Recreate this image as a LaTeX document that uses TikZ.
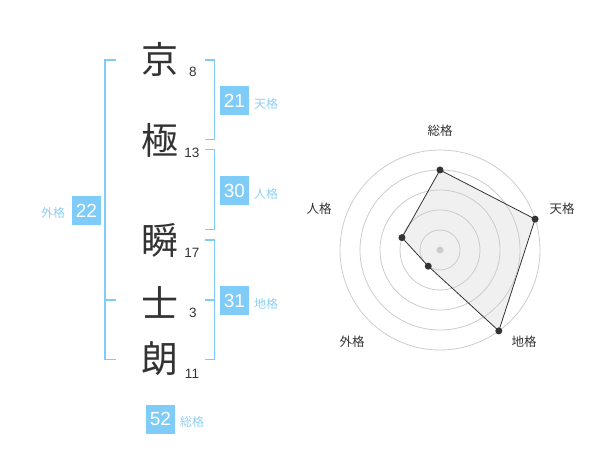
\documentclass[tikz,border=0pt]{standalone}
\usepackage{fontspec}
\usetikzlibrary{calc}
\setmainfont{Liberation Sans}
\newfontfamily\jp{Noto Sans CJK JP}
\definecolor{kblue}{HTML}{80CCF8}
\definecolor{klabel}{HTML}{8ED0F4}
\definecolor{kdark}{HTML}{333333}
\definecolor{kgrid}{HTML}{CCCCCC}
\definecolor{kfill}{HTML}{F0F0F0}
\begin{document}
\begin{tikzpicture}[x=1pt,y=-1pt,
  bigchar/.style={inner sep=0pt,font=\jp\fontsize{37}{37}\selectfont,text=kdark},
  strokes/.style={anchor=base,inner sep=0pt,font=\fontsize{13.5}{14}\selectfont,text=kdark},
  scorebox/.style={fill=kblue,text=white,minimum width=29pt,minimum height=29pt,inner sep=0pt,font=\fontsize{19}{19}\selectfont},
  kaku/.style={inner sep=0pt,anchor=west,font=\jp\fontsize{12}{12}\selectfont,text=klabel},
  bracket/.style={draw=kblue,line width=1.8pt},
  ring/.style={draw=kgrid,line width=0.8pt},
  axislabel/.style={inner sep=0pt,font=\jp\fontsize{12.5}{12.5}\selectfont,text=kdark},
  dot/.style={circle,fill=kdark,inner sep=0pt,minimum size=7pt}]
\useasboundingbox (0,0) rectangle (600,470);
% characters
\node[bigchar] (c1) at (160,59) {京};
\node[bigchar] (c2) at (160,140) {極};
\node[bigchar] (c3) at (160,240) {瞬};
\node[bigchar] (c4) at (160,302) {士};
\node[bigchar] (c5) at (160,359) {朗};
\node[strokes] (n1) at (193,77) {8};
\node[strokes] (n2) at (192,158) {13};
\node[strokes] (n3) at (192,258) {17};
\node[strokes] (n4) at (193,318) {3};
\node[strokes] (n5) at (192,378) {11};
% brackets
\draw[bracket] (116,60) -- (105,60) -- (105,359.5) -- (116,359.5);
\draw[bracket] (105,300) -- (116,300);
\draw[bracket] (205,60) -- (214.5,60) -- (214.5,139.5) -- (205,139.5);
\draw[bracket] (205,149.5) -- (214.5,149.5) -- (214.5,229.5) -- (205,229.5);
\draw[bracket] (205,240) -- (214.5,240) -- (214.5,359.5) -- (205,359.5);
\draw[bracket] (205,300) -- (214.5,300);
% scores
\node[scorebox] (ten) at (234.5,100.5) {21};
\node[kaku] (tenl) at (254,104) {天格};
\node[scorebox] (jin) at (234.5,190.5) {30};
\node[kaku] (jinl) at (254,194) {人格};
\node[scorebox] (chi) at (234.5,300.5) {31};
\node[kaku] (chil) at (254,304) {地格};
\node[scorebox] (gai) at (86.5,210.5) {22};
\node[kaku] (gail) at (41,213) {外格};
\node[scorebox] (sou) at (160.5,419) {52};
\node[kaku] (soul) at (180,422) {総格};
% radar
\coordinate (o) at (440,250);
\coordinate (p1) at ($(o)+(0,-80)$);
\coordinate (p2) at ($(o)+(95.1,-30.9)$);
\coordinate (p3) at ($(o)+(58.8,80.9)$);
\coordinate (p4) at ($(o)+(-11.76,16.18)$);
\coordinate (p5) at ($(o)+(-38.04,-12.36)$);
\fill[kfill] (p1) -- (p2) -- (p3) -- (p4) -- (p5) -- cycle;
\foreach \r in {20,40,60,80,100} \draw[ring] (o) circle[radius=\r];
\fill[kgrid] (o) circle[radius=3.5];
\draw[draw=kdark,line width=0.8pt] (p1) -- (p2) -- (p3) -- (p4) -- (p5) -- cycle;
\foreach \p in {p1,p2,p3,p4,p5} \node[dot] at (\p) {};
\node[axislabel] (l1) at (440,130.5) {総格};
\node[axislabel] (l2) at (562,209) {天格};
\node[axislabel] (l3) at (524,342) {地格};
\node[axislabel] (l4) at (352,342) {外格};
\node[axislabel] (l5) at (319,209) {人格};
\end{tikzpicture}
\end{document}
